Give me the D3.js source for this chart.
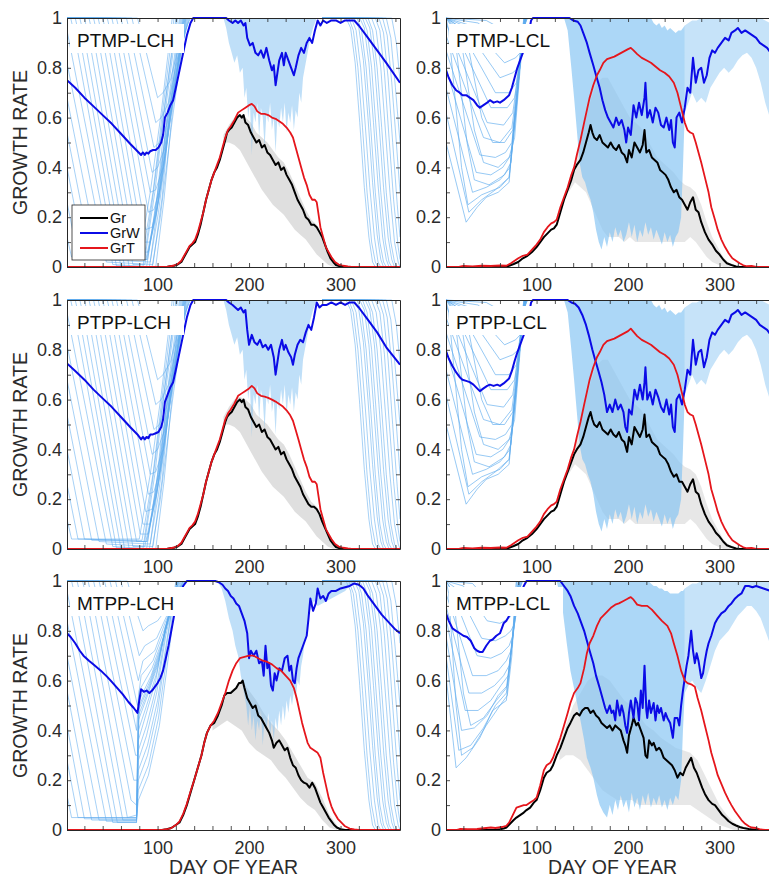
<!DOCTYPE html>
<html>
<head>
<meta charset="utf-8">
<script src="https://cdn.jsdelivr.net/npm/d3@7"></script>
<style>
  body { margin: 0; background: #fff; }
  text { font-family: "Liberation Sans", Arial, Helvetica, sans-serif; }
</style>
</head>
<body>
<svg id="chart" width="769" height="879"></svg>
<script>
// ---- bold series, [day, rate] ----
const grwPTMPLCH = [[1,0.75],[10,0.72],[20,0.68],[30,0.645],[40,0.61],[50,0.575],[60,0.535],[70,0.495],[78,0.465],[82,0.45],[84,0.46],[86,0.45],[88,0.46],[90,0.455],[92,0.465],[95,0.47],[98,0.47],[101,0.48],[104,0.5],[106,0.53],[108,0.6],[111,0.62],[114,0.65],[117,0.67],[120,0.72],[124,0.79],[128,0.86],[132,0.93],[136,0.98],[139,1],[175,1],[178,0.99],[182,0.98],[185,0.99],[188,0.98],[191,0.99],[194,0.97],[196,0.98],[198,0.92],[201,0.89],[204,0.9],[207,0.86],[210,0.85],[213,0.87],[216,0.84],[219,0.88],[222,0.83],[225,0.79],[227,0.81],[229,0.73],[231,0.78],[233,0.83],[236,0.86],[238,0.81],[240,0.86],[243,0.83],[246,0.8],[249,0.77],[251,0.8],[254,0.85],[257,0.88],[260,0.86],[263,0.9],[266,0.92],[269,0.9],[272,0.95],[275,0.99],[278,0.97],[281,0.99],[285,0.98],[290,0.99],[295,0.99],[300,0.98],[305,0.99],[310,0.99],[315,0.99],[320,0.97],[330,0.92],[340,0.87],[350,0.82],[365,0.74]];
const grPTMPLCH = [[1,0],[110,0],[114,0.003],[118,0.005],[122,0.01],[126,0.02],[129,0.04],[132,0.06],[135,0.08],[138,0.09],[141,0.1],[144,0.13],[147,0.17],[150,0.22],[153,0.27],[156,0.31],[159,0.35],[162,0.38],[165,0.4],[168,0.43],[171,0.47],[174,0.51],[176,0.54],[178,0.55],[181,0.56],[184,0.58],[187,0.6],[190,0.61],[192,0.6],[194,0.61],[196,0.58],[199,0.57],[202,0.54],[205,0.52],[208,0.5],[211,0.51],[214,0.48],[217,0.49],[220,0.46],[223,0.45],[226,0.43],[229,0.41],[232,0.42],[235,0.39],[238,0.4],[241,0.37],[244,0.35],[247,0.33],[250,0.3],[253,0.27],[256,0.25],[259,0.23],[262,0.2],[265,0.19],[268,0.17],[271,0.17],[274,0.16],[277,0.14],[280,0.12],[283,0.09],[286,0.06],[289,0.035],[292,0.02],[295,0.008],[300,0.002],[305,0],[365,0]];
const grtPTMPLCH = [[1,0],[110,0],[114,0.003],[118,0.006],[122,0.012],[126,0.025],[129,0.045],[132,0.065],[135,0.085],[138,0.095],[141,0.11],[144,0.14],[147,0.18],[150,0.22],[153,0.27],[156,0.31],[159,0.35],[162,0.38],[165,0.41],[168,0.44],[171,0.48],[174,0.52],[177,0.55],[180,0.565],[184,0.59],[188,0.62],[192,0.63],[196,0.64],[200,0.65],[203,0.655],[206,0.645],[209,0.625],[213,0.615],[217,0.615],[221,0.61],[225,0.6],[229,0.595],[233,0.585],[237,0.575],[241,0.56],[245,0.54],[248,0.52],[251,0.48],[254,0.44],[257,0.4],[260,0.36],[263,0.33],[266,0.29],[269,0.27],[272,0.27],[274,0.26],[276,0.21],[278,0.16],[281,0.12],[284,0.08],[287,0.06],[290,0.04],[294,0.02],[298,0.01],[303,0.005],[308,0.002],[312,0],[365,0]];

const grwPTPPLCH = [[1,0.745],[10,0.715],[20,0.68],[30,0.64],[40,0.605],[50,0.57],[60,0.53],[70,0.49],[78,0.46],[82,0.44],[84,0.45],[86,0.44],[88,0.45],[90,0.445],[92,0.46],[95,0.46],[98,0.465],[101,0.47],[104,0.49],[106,0.52],[108,0.59],[111,0.62],[114,0.65],[117,0.67],[120,0.72],[124,0.79],[128,0.86],[132,0.93],[136,0.98],[139,1],[175,1],[178,0.99],[182,0.98],[185,0.97],[188,0.96],[191,0.97],[194,0.95],[196,0.96],[198,0.88],[200,0.82],[203,0.86],[206,0.83],[209,0.82],[212,0.84],[215,0.81],[218,0.82],[221,0.8],[224,0.82],[227,0.77],[229,0.7],[231,0.75],[233,0.8],[236,0.84],[238,0.8],[240,0.82],[243,0.79],[246,0.77],[248,0.74],[250,0.78],[253,0.82],[256,0.84],[259,0.83],[262,0.87],[265,0.9],[268,0.88],[271,0.93],[274,0.99],[277,0.97],[280,0.98],[285,0.98],[290,0.99],[295,0.98],[300,0.99],[305,0.98],[310,0.99],[315,0.99],[320,0.97],[330,0.92],[340,0.87],[350,0.81],[365,0.74]];
const grPTPPLCH = [[1,0],[110,0],[114,0.003],[118,0.005],[122,0.01],[126,0.02],[129,0.04],[132,0.06],[135,0.08],[138,0.09],[141,0.1],[144,0.13],[147,0.17],[150,0.22],[153,0.27],[156,0.31],[159,0.35],[162,0.38],[165,0.4],[168,0.43],[171,0.47],[174,0.51],[176,0.53],[178,0.54],[181,0.55],[184,0.57],[187,0.59],[190,0.6],[192,0.59],[194,0.6],[196,0.57],[199,0.56],[202,0.53],[205,0.51],[208,0.49],[211,0.5],[214,0.47],[217,0.48],[220,0.45],[223,0.44],[226,0.42],[229,0.4],[232,0.41],[235,0.38],[238,0.39],[241,0.36],[244,0.34],[247,0.32],[250,0.29],[253,0.27],[256,0.25],[259,0.22],[262,0.2],[265,0.18],[268,0.17],[271,0.17],[274,0.16],[277,0.14],[280,0.11],[283,0.085],[286,0.06],[289,0.035],[292,0.02],[295,0.008],[300,0.002],[305,0],[365,0]];
const grtPTPPLCH = [[1,0],[110,0],[114,0.003],[118,0.006],[122,0.012],[126,0.025],[129,0.045],[132,0.065],[135,0.085],[138,0.095],[141,0.11],[144,0.14],[147,0.18],[150,0.22],[153,0.27],[156,0.31],[159,0.35],[162,0.38],[165,0.41],[168,0.44],[171,0.48],[174,0.52],[177,0.545],[180,0.56],[184,0.585],[188,0.615],[192,0.625],[196,0.635],[200,0.645],[203,0.655],[206,0.645],[209,0.625],[213,0.615],[217,0.612],[221,0.607],[225,0.6],[229,0.592],[233,0.582],[237,0.572],[241,0.557],[245,0.537],[248,0.515],[251,0.478],[254,0.44],[257,0.4],[260,0.36],[263,0.33],[266,0.29],[269,0.27],[272,0.27],[274,0.26],[276,0.21],[278,0.16],[281,0.12],[284,0.08],[287,0.06],[290,0.04],[294,0.02],[298,0.01],[303,0.005],[308,0.002],[312,0],[365,0]];

const grwMTPPLCH = [[1,0.79],[5,0.775],[10,0.75],[15,0.72],[19,0.7],[25,0.68],[30,0.665],[38,0.64],[45,0.615],[50,0.595],[56,0.57],[62,0.545],[68,0.515],[74,0.49],[78,0.47],[80,0.52],[82,0.565],[85,0.555],[88,0.56],[91,0.55],[94,0.56],[97,0.575],[100,0.59],[103,0.61],[106,0.64],[109,0.69],[112,0.74],[115,0.8],[118,0.86],[121,0.89],[124,0.94],[128,0.98],[132,1],[163,1],[167,0.995],[171,0.985],[174,0.97],[177,0.96],[180,0.94],[183,0.93],[186,0.91],[189,0.9],[192,0.87],[195,0.84],[198,0.79],[200,0.69],[202,0.72],[205,0.7],[208,0.72],[211,0.67],[214,0.68],[216,0.62],[218,0.74],[220,0.65],[222,0.67],[224,0.58],[226,0.56],[228,0.63],[230,0.6],[233,0.65],[236,0.64],[239,0.69],[242,0.7],[244,0.64],[246,0.66],[248,0.6],[250,0.59],[252,0.65],[254,0.69],[257,0.72],[260,0.75],[263,0.78],[265,0.85],[267,0.93],[270,0.88],[273,0.91],[275,0.97],[278,0.93],[281,0.94],[284,0.92],[287,0.95],[290,0.96],[295,0.96],[300,0.97],[305,0.975],[310,0.98],[315,0.99],[320,0.985],[325,0.97],[330,0.94],[335,0.915],[340,0.89],[345,0.865],[350,0.845],[355,0.825],[360,0.805],[365,0.79]];
const grMTPPLCH = [[1,0],[105,0],[110,0.003],[115,0.008],[120,0.02],[124,0.03],[128,0.06],[132,0.1],[136,0.15],[140,0.2],[144,0.25],[148,0.3],[151,0.35],[154,0.39],[158,0.42],[162,0.43],[166,0.46],[170,0.5],[173,0.54],[176,0.55],[180,0.55],[183,0.56],[186,0.57],[189,0.59],[191,0.59],[193,0.6],[195,0.57],[198,0.53],[201,0.51],[204,0.49],[207,0.5],[210,0.46],[213,0.45],[216,0.43],[219,0.41],[222,0.39],[225,0.36],[227,0.33],[230,0.35],[233,0.36],[236,0.34],[239,0.32],[242,0.33],[245,0.29],[248,0.26],[251,0.25],[254,0.22],[257,0.2],[260,0.19],[263,0.185],[266,0.17],[269,0.19],[272,0.17],[275,0.14],[278,0.11],[281,0.09],[284,0.07],[287,0.05],[290,0.035],[293,0.02],[296,0.01],[300,0.003],[305,0],[365,0]];
const grtMTPPLCH = [[1,0],[105,0],[110,0.003],[115,0.008],[120,0.02],[124,0.035],[128,0.065],[132,0.105],[136,0.155],[140,0.2],[144,0.25],[148,0.3],[151,0.35],[154,0.39],[158,0.42],[162,0.44],[166,0.47],[170,0.51],[174,0.55],[178,0.6],[182,0.64],[186,0.67],[190,0.69],[195,0.695],[200,0.7],[205,0.7],[210,0.69],[215,0.68],[220,0.675],[225,0.665],[230,0.65],[235,0.64],[240,0.62],[245,0.6],[249,0.57],[252,0.53],[255,0.48],[258,0.43],[261,0.39],[264,0.35],[267,0.33],[271,0.32],[275,0.31],[278,0.29],[281,0.23],[284,0.18],[287,0.13],[290,0.095],[293,0.07],[297,0.045],[301,0.03],[305,0.015],[310,0.006],[315,0.002],[320,0],[365,0]];

const grwPTMPLCL = [[1,0.79],[4,0.76],[8,0.73],[12,0.71],[16,0.7],[19,0.69],[23,0.69],[27,0.68],[31,0.67],[35,0.65],[38,0.64],[42,0.65],[46,0.66],[49,0.67],[53,0.66],[57,0.665],[60,0.66],[64,0.67],[67,0.68],[70,0.69],[73,0.72],[76,0.76],[79,0.8],[82,0.83],[85,0.86],[88,0.88],[91,0.93],[94,0.99],[96,1],[136,1],[140,0.99],[145,0.985],[148,0.97],[151,0.94],[155,0.9],[158,0.86],[162,0.81],[165,0.77],[169,0.72],[172,0.67],[175,0.63],[178,0.6],[181,0.58],[184,0.56],[187,0.6],[190,0.57],[193,0.59],[196,0.55],[198,0.5],[200,0.56],[203,0.53],[206,0.65],[209,0.6],[212,0.66],[215,0.61],[218,0.68],[219,0.74],[221,0.6],[224,0.63],[227,0.58],[230,0.64],[233,0.62],[236,0.57],[239,0.56],[242,0.6],[245,0.55],[247,0.59],[249,0.5],[251,0.48],[253,0.6],[256,0.62],[259,0.58],[262,0.64],[265,0.72],[268,0.7],[271,0.84],[274,0.74],[277,0.79],[280,0.8],[283,0.74],[286,0.77],[289,0.84],[292,0.87],[295,0.86],[298,0.88],[302,0.9],[306,0.92],[310,0.91],[313,0.94],[317,0.95],[320,0.96],[324,0.94],[328,0.95],[332,0.94],[336,0.93],[340,0.92],[344,0.9],[348,0.89],[352,0.88],[356,0.86],[365,0.8]];
const grPTMPLCL = [[1,0],[65,0],[70,0.005],[75,0.012],[80,0.02],[85,0.035],[90,0.045],[95,0.06],[100,0.08],[104,0.1],[108,0.12],[112,0.135],[116,0.15],[119,0.155],[122,0.17],[126,0.22],[130,0.27],[134,0.31],[138,0.35],[141,0.39],[144,0.41],[148,0.43],[151,0.46],[154,0.5],[157,0.54],[159,0.57],[161,0.54],[163,0.52],[166,0.51],[169,0.53],[172,0.5],[175,0.49],[178,0.48],[181,0.5],[184,0.48],[187,0.47],[190,0.49],[193,0.46],[196,0.45],[199,0.42],[201,0.47],[204,0.44],[207,0.5],[210,0.48],[213,0.46],[216,0.49],[218,0.55],[220,0.46],[223,0.47],[226,0.44],[229,0.43],[232,0.42],[235,0.39],[238,0.38],[241,0.37],[244,0.35],[247,0.32],[250,0.3],[253,0.31],[256,0.28],[259,0.27],[262,0.25],[265,0.23],[268,0.26],[271,0.28],[274,0.23],[277,0.22],[280,0.18],[284,0.14],[288,0.11],[292,0.09],[296,0.065],[300,0.05],[304,0.03],[308,0.015],[313,0.008],[318,0.002],[322,0],[365,0]];
const grtPTMPLCL = [[1,0],[15,0],[20,0.004],[30,0.002],[40,0.005],[50,0.004],[60,0.006],[67,0.005],[72,0.015],[76,0.025],[80,0.035],[85,0.045],[90,0.05],[95,0.07],[100,0.09],[104,0.11],[108,0.14],[112,0.16],[116,0.175],[119,0.18],[122,0.19],[126,0.24],[130,0.28],[134,0.32],[138,0.37],[141,0.4],[144,0.45],[148,0.51],[152,0.58],[155,0.63],[158,0.68],[162,0.73],[166,0.77],[169,0.79],[173,0.82],[177,0.835],[181,0.84],[185,0.845],[190,0.855],[195,0.865],[200,0.875],[203,0.88],[206,0.87],[210,0.855],[215,0.84],[220,0.83],[225,0.82],[230,0.805],[235,0.79],[240,0.78],[245,0.765],[250,0.74],[254,0.7],[258,0.64],[262,0.58],[265,0.55],[268,0.54],[271,0.535],[274,0.5],[277,0.46],[280,0.42],[284,0.36],[288,0.3],[291,0.24],[295,0.19],[298,0.15],[302,0.11],[306,0.08],[310,0.055],[314,0.035],[318,0.025],[322,0.015],[326,0.007],[330,0.003],[335,0.004],[340,0],[365,0]];

const grwPTPPLCL = [[1,0.795],[4,0.765],[8,0.735],[12,0.71],[16,0.69],[19,0.68],[23,0.675],[27,0.67],[31,0.66],[35,0.645],[38,0.634],[42,0.645],[46,0.655],[49,0.66],[53,0.655],[57,0.66],[60,0.655],[64,0.665],[67,0.675],[70,0.685],[73,0.715],[76,0.755],[79,0.79],[82,0.82],[85,0.85],[88,0.88],[91,0.93],[94,0.99],[96,1],[134,1],[138,0.99],[142,0.985],[146,0.97],[150,0.94],[154,0.9],[157,0.86],[161,0.8],[164,0.76],[168,0.71],[171,0.67],[174,0.62],[177,0.55],[180,0.58],[183,0.55],[186,0.6],[189,0.56],[192,0.58],[195,0.55],[197,0.49],[199,0.47],[201,0.56],[204,0.54],[207,0.64],[210,0.6],[213,0.66],[216,0.6],[218,0.67],[219,0.73],[221,0.6],[224,0.63],[227,0.58],[230,0.64],[233,0.61],[236,0.57],[239,0.55],[242,0.6],[245,0.54],[247,0.58],[249,0.49],[251,0.47],[253,0.6],[256,0.62],[259,0.58],[262,0.64],[265,0.72],[268,0.7],[271,0.84],[274,0.74],[277,0.79],[280,0.8],[283,0.73],[286,0.77],[289,0.84],[292,0.87],[295,0.86],[298,0.88],[302,0.9],[306,0.92],[310,0.91],[313,0.94],[317,0.95],[320,0.96],[324,0.94],[328,0.95],[332,0.94],[336,0.93],[340,0.92],[344,0.9],[348,0.89],[352,0.88],[356,0.86],[365,0.8]];
const grPTPPLCL = [[1,0],[65,0],[70,0.005],[75,0.012],[80,0.02],[85,0.035],[90,0.045],[95,0.06],[100,0.08],[104,0.1],[108,0.12],[112,0.135],[116,0.15],[119,0.155],[122,0.17],[126,0.22],[130,0.27],[134,0.31],[138,0.35],[141,0.38],[144,0.4],[148,0.42],[151,0.45],[154,0.49],[157,0.53],[159,0.55],[161,0.52],[163,0.5],[166,0.49],[169,0.51],[172,0.48],[175,0.47],[178,0.46],[181,0.48],[184,0.46],[187,0.45],[190,0.47],[193,0.44],[196,0.43],[199,0.39],[201,0.45],[204,0.42],[207,0.49],[210,0.47],[213,0.45],[216,0.48],[218,0.54],[220,0.45],[223,0.46],[226,0.43],[229,0.42],[232,0.41],[235,0.38],[238,0.37],[241,0.36],[244,0.34],[247,0.31],[250,0.29],[253,0.3],[256,0.27],[259,0.27],[262,0.25],[265,0.23],[268,0.26],[271,0.28],[274,0.23],[277,0.22],[280,0.18],[284,0.14],[288,0.11],[292,0.09],[296,0.065],[300,0.05],[304,0.03],[308,0.015],[313,0.008],[318,0.002],[322,0],[365,0]];
const grtPTPPLCL = [[1,0],[15,0],[20,0.004],[30,0.002],[40,0.005],[50,0.004],[60,0.006],[67,0.005],[72,0.015],[76,0.025],[80,0.035],[85,0.045],[90,0.05],[95,0.07],[100,0.09],[104,0.11],[108,0.14],[112,0.16],[116,0.175],[119,0.18],[122,0.19],[126,0.24],[130,0.28],[134,0.32],[138,0.37],[141,0.4],[144,0.45],[148,0.51],[152,0.58],[155,0.63],[158,0.68],[162,0.73],[166,0.77],[169,0.79],[173,0.82],[177,0.835],[181,0.84],[185,0.845],[190,0.855],[195,0.865],[200,0.875],[203,0.885],[206,0.872],[210,0.855],[215,0.84],[220,0.83],[225,0.82],[230,0.805],[235,0.79],[240,0.78],[245,0.765],[250,0.74],[254,0.7],[258,0.64],[262,0.58],[265,0.55],[268,0.54],[271,0.535],[274,0.5],[277,0.46],[280,0.42],[284,0.36],[288,0.3],[291,0.24],[295,0.19],[298,0.15],[302,0.11],[306,0.08],[310,0.055],[314,0.035],[318,0.025],[322,0.015],[326,0.007],[330,0.003],[335,0.004],[340,0],[365,0]];

const grwMTPPLCL = [[1,0.87],[4,0.84],[8,0.81],[12,0.8],[16,0.79],[20,0.78],[24,0.775],[28,0.76],[32,0.73],[35,0.72],[38,0.715],[41,0.715],[45,0.74],[49,0.76],[52,0.765],[56,0.78],[60,0.79],[64,0.83],[67,0.84],[70,0.86],[74,0.88],[78,0.9],[82,0.94],[86,0.98],[89,1],[126,1],[130,0.98],[134,0.96],[137,0.94],[141,0.9],[145,0.87],[148,0.84],[152,0.8],[155,0.76],[158,0.72],[162,0.67],[165,0.62],[169,0.57],[172,0.53],[175,0.49],[177,0.47],[180,0.5],[182,0.47],[184,0.48],[186,0.44],[188,0.52],[191,0.46],[193,0.5],[195,0.47],[197,0.42],[199,0.39],[201,0.47],[203,0.52],[206,0.45],[208,0.53],[210,0.51],[212,0.44],[214,0.56],[216,0.49],[218,0.66],[220,0.48],[221,0.45],[223,0.52],[225,0.47],[228,0.51],[230,0.44],[232,0.5],[234,0.47],[236,0.49],[239,0.44],[241,0.47],[243,0.45],[246,0.43],[249,0.37],[251,0.45],[254,0.45],[256,0.42],[258,0.5],[260,0.56],[262,0.61],[264,0.66],[266,0.7],[269,0.8],[271,0.72],[273,0.67],[275,0.71],[277,0.68],[280,0.61],[282,0.63],[284,0.68],[286,0.72],[288,0.75],[291,0.78],[295,0.83],[298,0.85],[302,0.87],[306,0.88],[310,0.9],[313,0.91],[317,0.93],[320,0.94],[324,0.95],[328,0.98],[332,0.98],[336,0.975],[340,0.98],[344,0.975],[348,0.97],[352,0.965],[356,0.96],[365,0.95]];
const grMTPPLCL = [[1,0],[55,0],[60,0.003],[64,0.006],[67,0.01],[71,0.025],[75,0.04],[78,0.05],[82,0.06],[86,0.07],[89,0.08],[93,0.09],[97,0.11],[100,0.12],[104,0.16],[108,0.21],[111,0.23],[115,0.24],[118,0.26],[122,0.3],[126,0.33],[130,0.37],[134,0.41],[137,0.43],[141,0.46],[144,0.47],[147,0.46],[150,0.48],[153,0.49],[156,0.49],[159,0.47],[162,0.48],[165,0.46],[168,0.45],[171,0.43],[174,0.42],[177,0.41],[180,0.42],[183,0.4],[186,0.42],[189,0.41],[192,0.4],[195,0.36],[197,0.34],[199,0.31],[201,0.38],[204,0.42],[206,0.45],[209,0.42],[211,0.43],[214,0.4],[217,0.37],[219,0.3],[221,0.29],[223,0.36],[226,0.34],[228,0.35],[231,0.32],[234,0.33],[236,0.32],[239,0.29],[242,0.28],[245,0.27],[248,0.26],[251,0.24],[254,0.21],[257,0.23],[260,0.22],[263,0.25],[266,0.27],[269,0.29],[272,0.25],[275,0.23],[278,0.2],[281,0.17],[284,0.145],[288,0.12],[292,0.105],[295,0.1],[299,0.08],[303,0.06],[306,0.05],[310,0.035],[314,0.025],[318,0.018],[322,0.012],[326,0.008],[332,0.004],[338,0.001],[345,0],[365,0]];
const grtMTPPLCL = [[1,0],[12,0],[16,0.004],[25,0.003],[35,0.004],[45,0.008],[50,0.01],[55,0.008],[62,0.012],[67,0.017],[70,0.03],[74,0.06],[78,0.09],[82,0.095],[86,0.1],[89,0.1],[93,0.11],[97,0.12],[100,0.13],[104,0.18],[108,0.24],[111,0.26],[115,0.27],[118,0.29],[122,0.33],[126,0.37],[130,0.42],[134,0.47],[137,0.51],[141,0.55],[145,0.57],[148,0.59],[152,0.65],[155,0.71],[158,0.75],[162,0.78],[166,0.82],[170,0.85],[174,0.865],[178,0.88],[182,0.895],[186,0.905],[190,0.91],[195,0.92],[200,0.93],[203,0.935],[206,0.925],[210,0.905],[215,0.9],[221,0.9],[226,0.885],[232,0.86],[237,0.84],[243,0.82],[247,0.79],[250,0.75],[254,0.7],[258,0.64],[262,0.6],[265,0.59],[269,0.585],[273,0.575],[276,0.53],[280,0.48],[284,0.42],[288,0.36],[291,0.31],[295,0.26],[298,0.22],[302,0.185],[306,0.15],[310,0.12],[313,0.1],[317,0.075],[321,0.055],[324,0.04],[328,0.025],[332,0.015],[335,0.01],[340,0.008],[345,0.002],[350,0],[365,0]];

// ---- ensemble members (light blue GrW runs), [day, rate] ----
const earlyLCH = [
  [[1,0.12],[6,0.04],[80,0.04],[92,0.3],[104,0.62],[116,1]],
  [[1,0.26],[13,0.04],[83,0.035],[95,0.3],[106,0.64],[118,1]],
  [[1,0.4],[20,0.04],[86,0.03],[97,0.3],[108,0.65],[120,1]],
  [[1,0.54],[28,0.035],[89,0.03],[100,0.3],[110,0.67],[122,1]],
  [[1,0.68],[36,0.03],[92,0.02],[102,0.3],[112,0.67],[124,1]],
  [[1,0.82],[44,0.02],[95,0.01],[105,0.28],[114,0.65],[126,1]],
  [[1,0.95],[51,0.01],[98,0],[107,0.27],[116,0.62],[128,1]],
  [[1,1],[5,1],[10,0.92],[55,0.005],[84,0],[94,0.26],[106,0.6],[121,1]],
  [[1,1],[10,1],[15,0.92],[60,0],[88,0],[98,0.24],[110,0.58],[125,1]],
  [[1,1],[15,1],[20,0.92],[64,0],[91,0],[101,0.22],[113,0.57],[129,1]],
  [[1,1],[20,1],[25,0.92],[69,0],[94,0],[103,0.2],[115,0.56],[131,1]],
  [[1,1],[25,1],[30,0.92],[73,0.01],[86,0.01],[97,0.2],[110,0.56],[127,1]],
  [[1,1],[30,1],[35,0.92],[77,0.03],[88,0.03],[98,0.21],[111,0.56],[128,1]],
  [[1,1],[35,1],[40,0.92],[81,0.06],[90,0.06],[99,0.22],[112,0.57],[129,1]],
  [[1,1],[40,1],[45,0.92],[84,0.1],[92,0.1],[100,0.24],[113,0.58],[130,1]],
  [[1,1],[45,1],[50,0.92],[87,0.15],[94,0.16],[102,0.28],[114,0.6],[130,1]],
  [[1,1],[50,1],[55,0.92],[90,0.22],[96,0.23],[104,0.33],[115,0.63],[131,1]],
  [[1,1],[55,1],[60,0.92],[92,0.3],[98,0.31],[106,0.4],[117,0.67],[132,1]],
  [[1,1],[60,1],[65,0.92],[94,0.38],[100,0.4],[108,0.48],[118,0.72],[133,1]],
  [[1,1],[66,1],[71,0.92],[96,0.48],[102,0.5],[110,0.57],[120,0.78],[134,1]],
  [[1,1],[72,1],[77,0.92],[98,0.58],[104,0.6],[112,0.66],[122,0.84],[135,1]],
  [[1,1],[78,1],[83,0.93],[100,0.68],[106,0.7],[114,0.75],[124,0.9],[136,1]]
];
const earlyMTLCH = [
  [[1,0.14],[6,0.05],[77,0.05],[79,0.12],[90,0.22],[102,0.42],[112,0.7],[122,1]],
  [[1,0.28],[13,0.05],[77,0.05],[79,0.16],[90,0.26],[101,0.45],[111,0.72],[121,1]],
  [[1,0.42],[20,0.045],[77,0.045],[79,0.2],[89,0.3],[100,0.48],[110,0.74],[120,1]],
  [[1,0.56],[28,0.04],[77,0.04],[79,0.24],[89,0.34],[100,0.52],[110,0.76],[121,1]],
  [[1,0.7],[36,0.04],[77,0.04],[79,0.28],[88,0.38],[99,0.55],[109,0.78],[122,1]],
  [[1,0.84],[44,0.035],[77,0.035],[79,0.32],[88,0.42],[99,0.58],[109,0.8],[123,1]],
  [[1,0.96],[51,0.03],[77,0.03],[79,0.36],[87,0.46],[98,0.6],[108,0.81],[123,1]],
  [[1,1],[6,1],[11,0.92],[56,0.03],[77,0.03],[79,0.4],[88,0.5],[99,0.63],[110,0.83],[124,1]],
  [[1,1],[12,1],[17,0.92],[62,0.04],[77,0.04],[79,0.44],[89,0.54],[100,0.66],[111,0.85],[125,1]],
  [[1,1],[18,1],[23,0.92],[67,0.05],[77,0.06],[79,0.46],[90,0.56],[101,0.68],[112,0.86],[126,1]],
  [[1,1],[24,1],[29,0.92],[71,0.12],[77,0.1],[79,0.48],[91,0.58],[102,0.7],[113,0.87],[127,1]],
  [[1,1],[30,1],[35,0.92],[74,0.2],[78,0.2],[80,0.5],[92,0.6],[103,0.72],[114,0.88],[128,1]],
  [[1,1],[36,1],[41,0.92],[76,0.3],[78,0.3],[80,0.52],[93,0.62],[104,0.74],[115,0.89],[128,1]],
  [[1,1],[42,1],[47,0.92],[77,0.4],[80,0.56],[94,0.65],[106,0.77],[116,0.9],[129,1]],
  [[1,1],[48,1],[53,0.92],[78,0.5],[82,0.62],[95,0.68],[107,0.8],[118,0.92],[130,1]],
  [[1,1],[54,1],[59,0.92],[79,0.6],[84,0.68],[97,0.72],[108,0.83],[119,0.93],[131,1]],
  [[1,1],[60,1],[65,0.92],[80,0.7],[86,0.74],[99,0.77],[110,0.86],[120,0.95],[132,1]],
  [[1,1],[67,1],[72,0.93],[84,0.8],[90,0.82],[100,0.84],[112,0.9],[122,0.97],[133,1]]
];
const lateLCH = [
  [[280,1],[306,1],[311,0.96],[316,0.82],[321,0.58],[326,0.32],[331,0.12],[335,0.02],[338,0]],
  [[280,1],[309,1],[314,0.95],[319,0.8],[324,0.56],[329,0.3],[334,0.1],[338,0.02],[341,0]],
  [[280,1],[312,1],[317,0.95],[322,0.8],[327,0.57],[332,0.32],[337,0.12],[341,0.02],[344,0]],
  [[280,1],[315,1],[320,0.96],[325,0.83],[330,0.6],[335,0.34],[340,0.13],[344,0.03],[347,0]],
  [[280,1],[318,1],[323,0.95],[328,0.8],[333,0.56],[338,0.3],[343,0.1],[347,0.02],[350,0]],
  [[280,1],[321,1],[326,0.96],[331,0.82],[336,0.58],[341,0.33],[346,0.12],[350,0.03],[353,0]],
  [[280,1],[324,1],[329,0.95],[334,0.8],[339,0.55],[344,0.3],[349,0.1],[353,0.02],[356,0]],
  [[280,1],[327,1],[332,0.96],[337,0.82],[342,0.58],[347,0.32],[352,0.12],[356,0.03],[359,0]],
  [[280,1],[330,1],[335,0.95],[340,0.8],[345,0.56],[350,0.3],[355,0.1],[359,0.02],[362,0]],
  [[280,1],[334,1],[339,0.95],[344,0.8],[349,0.55],[354,0.3],[359,0.1],[363,0.02],[365,0]],
  [[280,1],[338,1],[343,0.95],[348,0.78],[353,0.52],[358,0.27],[363,0.08],[365,0.03]],
  [[280,1],[342,1],[347,0.94],[352,0.76],[357,0.5],[362,0.25],[365,0.12]],
  [[280,1],[346,1],[351,0.93],[356,0.74],[361,0.5],[365,0.3]],
  [[280,1],[350,1],[355,0.92],[360,0.72],[365,0.5]],
  [[280,1],[356,1],[361,0.9],[365,0.75]]
];
const earlyLCL = [
  [[1,0.5],[23,0.18],[35,0.24],[45,0.28],[58,0.3],[70,0.34],[76,0.6],[84,0.92],[88,1]],
  [[1,0.62],[26,0.22],[40,0.27],[55,0.31],[70,0.36],[77,0.62],[85,0.95],[88,1]],
  [[1,0.72],[30,0.3],[45,0.32],[60,0.35],[71,0.4],[78,0.66],[85,0.96],[88,1]],
  [[1,0.8],[34,0.38],[50,0.37],[63,0.4],[72,0.45],[79,0.7],[86,0.97],[89,1]],
  [[1,0.87],[38,0.45],[55,0.44],[66,0.46],[73,0.5],[80,0.74],[86,0.98],[89,1]],
  [[1,0.93],[42,0.52],[60,0.5],[73,0.56],[81,0.78],[87,1]],
  [[1,0.98],[46,0.58],[64,0.57],[74,0.62],[82,0.82],[87,1]],
  [[1,1],[8,0.97],[50,0.64],[68,0.64],[76,0.68],[83,0.86],[88,1]],
  [[1,1],[14,0.97],[55,0.7],[70,0.7],[78,0.74],[84,0.9],[88,1]],
  [[1,1],[20,0.97],[60,0.76],[74,0.78],[80,0.8],[85,0.93],[88,1]],
  [[1,1],[28,0.97],[65,0.82],[77,0.84],[82,0.86],[86,0.95],[89,1]],
  [[1,1],[36,0.98],[70,0.88],[80,0.9],[86,0.96],[90,1]],
  [[1,1],[45,0.99],[75,0.93],[84,0.95],[90,1]],
  [[1,1],[4,0.95],[18,0.4],[25,0.25],[40,0.29],[60,0.32],[70,0.36],[77,0.6],[86,1]],
  [[1,1],[10,0.95],[24,0.5],[32,0.35],[48,0.33],[65,0.37],[72,0.42],[79,0.68],[86,1]],
  [[1,1],[16,0.95],[32,0.55],[42,0.42],[58,0.4],[70,0.44],[76,0.52],[81,0.75],[87,1]],
  [[1,1],[22,0.95],[40,0.6],[52,0.5],[65,0.5],[74,0.55],[80,0.74],[87,1]]
];
const earlyMTLCL = [
  [[1,0.62],[12,0.25],[23,0.29],[38,0.37],[52,0.48],[67,0.52],[72,0.7],[76,0.87],[80,1]],
  [[1,0.7],[15,0.32],[28,0.34],[42,0.41],[55,0.5],[67,0.55],[72,0.72],[77,0.9],[80,1]],
  [[1,0.78],[18,0.4],[32,0.41],[46,0.46],[58,0.54],[68,0.58],[73,0.74],[78,0.92],[81,1]],
  [[1,0.85],[22,0.48],[36,0.48],[50,0.52],[61,0.58],[69,0.62],[74,0.77],[78,0.93],[81,1]],
  [[1,0.9],[26,0.55],[40,0.55],[54,0.58],[64,0.62],[70,0.66],[75,0.8],[79,0.95],[82,1]],
  [[1,0.95],[30,0.62],[45,0.62],[58,0.64],[67,0.68],[72,0.72],[76,0.84],[80,0.96],[82,1]],
  [[1,1],[6,0.97],[35,0.7],[50,0.69],[62,0.71],[70,0.74],[74,0.78],[78,0.88],[82,1]],
  [[1,1],[12,0.97],[40,0.77],[55,0.76],[66,0.78],[72,0.8],[76,0.83],[80,0.92],[83,1]],
  [[1,1],[20,0.98],[46,0.84],[60,0.83],[70,0.85],[75,0.88],[80,0.94],[84,1]],
  [[1,1],[30,0.99],[52,0.9],[66,0.9],[74,0.92],[80,0.96],[85,1]],
  [[1,1],[4,0.95],[12,0.5],[18,0.3],[30,0.33],[45,0.42],[60,0.5],[68,0.54],[73,0.7],[78,1]],
  [[1,1],[9,0.95],[20,0.55],[28,0.42],[42,0.45],[56,0.52],[67,0.57],[73,0.74],[78,1]]
];

// ---- ensemble envelopes [day, low, high] ----
const bandLCH = [[172,1,1],[175,0.96,1],[178,0.9,1],[181,0.86,1],[184,0.82,1],[187,0.85,1],[190,0.78,1],[193,0.8,1],[195,0.68,1],[197,0.72,1],[199,0.6,1],[201,0.66,1],[203,0.45,1],[205,0.62,1],[207,0.58,1],[209,0.66,1],[211,0.52,1],[213,0.64,1],[215,0.6,1],[217,0.48,1],[219,0.62,1],[221,0.58,1],[223,0.66,1],[225,0.55,1],[227,0.6,1],[229,0.46,1],[231,0.6,1],[233,0.56,1],[235,0.64,1],[237,0.58,1],[239,0.66,1],[241,0.54,1],[243,0.62,1],[245,0.58,1],[247,0.65,1],[249,0.55,1],[251,0.63,1],[253,0.6,1],[255,0.7,1],[257,0.66,1],[259,0.76,1],[261,0.8,1],[264,0.86,1],[267,0.92,1],[270,0.96,1],[274,1,1]];
const bandMTLCH = [[165,1,1],[170,0.97,1],[174,0.92,1],[178,0.85,1],[182,0.8,1],[185,0.74,1],[188,0.7,1],[191,0.62,1],[194,0.56,1],[197,0.5,1],[199,0.42,1],[201,0.5,1],[203,0.4,1],[205,0.46,1],[207,0.36,1],[209,0.44,1],[211,0.4,1],[213,0.48,1],[215,0.34,1],[217,0.45,1],[219,0.4,1],[221,0.47,1],[223,0.38,1],[225,0.44,1],[227,0.36,1],[229,0.45,1],[231,0.4,1],[233,0.48,1],[235,0.42,1],[237,0.5,1],[239,0.44,1],[241,0.52,1],[243,0.47,1],[245,0.54,1],[247,0.5,1],[249,0.56,1],[251,0.52,1],[253,0.6,1],[255,0.58,1],[257,0.66,1],[259,0.7,1],[261,0.76,1],[263,0.8,1],[265,0.86,1],[268,0.9,1],[271,0.92,1],[275,0.9,1],[280,0.91,1],[285,0.92,1],[295,0.94,1],[305,0.96,1],[315,1,1]];
const bandLCL = [[130,1,1],[134,0.95,1],[138,0.8,1],[141,0.68,1],[144,0.55,1],[147,0.42,1],[150,0.36,1],[153,0.34,1],[156,0.3,1],[159,0.27,1],[162,0.22,1],[165,0.15,1],[168,0.1,1],[171,0.07,1],[174,0.12,1],[177,0.08,1],[180,0.14,1],[183,0.1,1],[186,0.16,1],[189,0.12,1],[192,0.15,1],[195,0.1,1],[198,0.13,1],[201,0.18,1],[204,0.12,1],[207,0.17,1],[210,0.1,1],[213,0.15,1],[216,0.12,1],[219,0.18,1],[222,0.13,1],[225,0.16,1],[228,0.11,0.98],[231,0.15,0.97],[234,0.12,0.98],[237,0.09,0.96],[240,0.14,0.97],[243,0.1,0.95],[246,0.13,0.96],[249,0.08,0.95],[252,0.12,0.94],[255,0.14,0.95],[258,0.2,0.95],[260,0.4,0.96],[262,0.62,0.97]];
const lateBandLCL = [[262,0.62,0.97],[266,0.66,0.98],[270,0.7,0.99],[275,0.66,0.99],[280,0.68,1],[285,0.66,1],[290,0.72,1],[295,0.75,1],[300,0.78,1],[305,0.8,1],[310,0.78,1],[315,0.8,1],[320,0.83,1],[325,0.85,1],[330,0.86,1],[335,0.84,1],[340,0.8,1],[345,0.74,1],[350,0.66,0.99],[355,0.6,0.98],[360,0.55,0.97],[365,0.5,0.96]];
const bandMTLCL = [[122,1,1],[128,0.9,1],[133,0.75,1],[137,0.64,1],[142,0.55,1],[148,0.44,1],[152,0.36,1],[155,0.29,1],[159,0.25,1],[162,0.21,1],[166,0.14,1],[169,0.1,1],[173,0.07,1],[177,0.05,1],[180,0.1,1],[183,0.06,1],[186,0.12,1],[189,0.08,1],[192,0.14,1],[195,0.09,1],[198,0.12,1],[201,0.07,1],[204,0.15,1],[207,0.09,1],[210,0.13,1],[213,0.08,1],[216,0.14,1],[219,0.1,1],[222,0.15,1],[225,0.09,0.99],[228,0.13,0.98],[231,0.1,0.98],[234,0.14,0.97],[237,0.09,0.97],[240,0.12,0.96],[243,0.08,0.96],[246,0.13,0.95],[249,0.1,0.95],[252,0.14,0.95],[255,0.12,0.95],[258,0.2,0.96],[260,0.4,0.96],[262,0.55,0.97]];
const lateBandMTLCL = [[262,0.55,0.97],[266,0.58,0.98],[270,0.6,0.99],[275,0.57,0.99],[280,0.55,1],[285,0.6,1],[290,0.66,1],[295,0.72,1],[300,0.76,1],[305,0.78,1],[310,0.8,1],[315,0.83,1],[320,0.86,1],[325,0.88,1],[330,0.9,1],[335,0.9,1],[340,0.88,1],[345,0.85,1],[350,0.8,1],[355,0.75,1],[365,0.68,1]];

// gray Gr runs
const grayLCH = [[172,0.5,0.53],[178,0.5,0.57],[184,0.49,0.6],[190,0.47,0.61],[196,0.43,0.6],[202,0.39,0.58],[208,0.35,0.54],[214,0.31,0.52],[220,0.28,0.5],[226,0.25,0.47],[232,0.23,0.44],[238,0.21,0.42],[244,0.18,0.38],[250,0.15,0.33],[256,0.13,0.28],[262,0.11,0.23],[268,0.08,0.19],[274,0.05,0.17],[280,0.03,0.13],[286,0.01,0.07],[292,0,0.03],[298,0,0.01]];
const grayMTLCH = [[160,0.4,0.43],[168,0.42,0.49],[176,0.44,0.55],[184,0.42,0.57],[192,0.4,0.6],[200,0.35,0.56],[208,0.32,0.52],[216,0.3,0.47],[224,0.28,0.43],[232,0.24,0.4],[240,0.21,0.36],[248,0.17,0.31],[256,0.13,0.26],[264,0.1,0.21],[272,0.08,0.19],[280,0.04,0.13],[288,0.01,0.06],[296,0,0.02]];
const grayLCL = [[135,0.3,0.34],[142,0.34,0.42],[148,0.32,0.5],[154,0.3,0.6],[160,0.25,0.68],[166,0.2,0.74],[172,0.15,0.76],[178,0.12,0.76],[184,0.12,0.72],[190,0.12,0.68],[196,0.1,0.64],[202,0.12,0.6],[208,0.1,0.58],[214,0.1,0.56],[220,0.1,0.52],[226,0.1,0.48],[232,0.1,0.44],[238,0.1,0.42],[244,0.1,0.4],[250,0.1,0.38],[256,0.1,0.35],[262,0.1,0.33],[268,0.12,0.32],[274,0.1,0.3],[280,0.07,0.25],[286,0.04,0.18],[292,0.02,0.12],[298,0.01,0.08],[304,0,0.04],[312,0,0.01]];
const grayMTLCL = [[125,0.28,0.34],[132,0.3,0.42],[140,0.3,0.5],[148,0.28,0.55],[156,0.24,0.6],[164,0.2,0.62],[172,0.16,0.62],[180,0.14,0.6],[188,0.12,0.56],[196,0.12,0.52],[204,0.12,0.5],[212,0.1,0.46],[220,0.1,0.42],[228,0.1,0.4],[236,0.1,0.37],[244,0.1,0.35],[252,0.1,0.33],[260,0.1,0.32],[268,0.1,0.31],[276,0.08,0.28],[284,0.06,0.22],[292,0.04,0.16],[300,0.02,0.1],[308,0.01,0.06],[316,0,0.03],[325,0,0.01]];

const yTickValues = [0, 0.1, 0.2, 0.3, 0.4, 0.5, 0.6, 0.7, 0.8, 0.9, 1];
const yLabelled = [0, 0.2, 0.4, 0.6, 0.8, 1];
const xTickValues = [20, 40, 60, 80, 100, 120, 140, 160, 180, 200, 220, 240, 260, 280, 300, 320, 340, 360];
const xLabelled = [100, 200, 300];
const legendNames = ['Gr', 'GrW', 'GrT'];

const panels = [
  { label: 'PTMP-LCH', col: 0, row: 0, gr: grPTMPLCH, grw: grwPTMPLCH, grt: grtPTMPLCH, gray: grayLCH, band: bandLCH, lateBand: [], early: earlyLCH, late: lateLCH, legend: true },
  { label: 'PTMP-LCL', col: 1, row: 0, gr: grPTMPLCL, grw: grwPTMPLCL, grt: grtPTMPLCL, gray: grayLCL, band: bandLCL, lateBand: lateBandLCL, early: earlyLCL, late: [] },
  { label: 'PTPP-LCH', col: 0, row: 1, gr: grPTPPLCH, grw: grwPTPPLCH, grt: grtPTPPLCH, gray: grayLCH, band: bandLCH, lateBand: [], early: earlyLCH, late: lateLCH },
  { label: 'PTPP-LCL', col: 1, row: 1, gr: grPTPPLCL, grw: grwPTPPLCL, grt: grtPTPPLCL, gray: grayLCL, band: bandLCL, lateBand: lateBandLCL, early: earlyLCL, late: [] },
  { label: 'MTPP-LCH', col: 0, row: 2, gr: grMTPPLCH, grw: grwMTPPLCH, grt: grtMTPPLCH, gray: grayMTLCH, band: bandMTLCH, lateBand: [], early: earlyMTLCH, late: lateLCH },
  { label: 'MTPP-LCL', col: 1, row: 2, gr: grMTPPLCL, grw: grwMTPPLCL, grt: grtMTPPLCL, gray: grayMTLCL, band: bandMTLCL, lateBand: lateBandMTLCL, early: earlyMTLCL, late: [] }
];

const svg = d3.select('#chart');
const colX = [67, 446];
const rowY = [18, 300, 581];
const plotW = 333;
const plotH = 249;
const axisColor = '#262626';
const colors = { gr: '#000000', grw: '#0b0be6', grt: '#e5161c' };

function drawPanel(p, i) {
  const left = colX[p.col];
  const top = rowY[p.row];
  const x = d3.scaleLinear().domain([1, 365]).range([0, plotW]);
  const y = d3.scaleLinear().domain([0, 1]).range([plotH, 0]);
  const g = svg.append('g').attr('transform', `translate(${left},${top})`);

  g.append('clipPath').attr('id', 'clip' + i)
    .append('rect').attr('x', 0).attr('y', -1.5).attr('width', plotW).attr('height', plotH + 3);
  const plot = g.append('g').attr('clip-path', `url(#clip${i})`);

  const line = d3.line().x(d => x(d[0])).y(d => y(d[1]));
  const area = d3.area().x(d => x(d[0])).y0(d => y(d[1])).y1(d => y(d[2]));

  plot.append('path').datum(p.gray).attr('d', area)
    .attr('fill', 'rgb(175,175,175)').attr('fill-opacity', p.col === 0 ? 0.4 : 0.3);

  plot.append('g').selectAll('path')
    .data(p.early.concat(p.late))
    .join('path')
    .attr('d', line)
    .attr('fill', 'none')
    .attr('stroke', 'rgb(95,172,238)')
    .attr('stroke-opacity', p.col === 0 ? 0.55 : 0.65)
    .attr('stroke-width', 1);

  plot.append('path').datum(p.band).attr('d', area)
    .attr('fill', p.col === 0 ? 'rgb(128,192,242)' : 'rgb(132,196,243)')
    .attr('fill-opacity', p.col === 0 ? 0.5 : 0.68);
  if (p.lateBand.length) {
    plot.append('path').datum(p.lateBand).attr('d', area)
      .attr('fill', 'rgb(128,192,242)').attr('fill-opacity', 0.45);
  }

  [['gr', 2], ['grw', 2], ['grt', 1.8]].forEach(([key, w]) => {
    plot.append('path').datum(p[key]).attr('d', line)
      .attr('fill', 'none')
      .attr('stroke', colors[key])
      .attr('stroke-width', w)
      .attr('stroke-linejoin', 'round');
  });

  // axes, MATLAB style box with inward ticks
  const fmt = d3.format('~g');
  const styleAxis = sel => {
    sel.select('.domain').attr('stroke', axisColor);
    sel.selectAll('.tick line').attr('stroke', axisColor).attr('stroke-width', 0.8);
    sel.selectAll('.tick text').attr('fill', '#2b2b2b').attr('font-size', 18)
      .attr('font-family', '"Liberation Sans", Arial, sans-serif');
  };
  g.append('g')
    .call(d3.axisLeft(y).tickValues(yTickValues).tickSizeInner(-4).tickSizeOuter(0).tickPadding(5)
      .tickFormat(d => yLabelled.some(v => Math.abs(v - d) < 1e-9) ? fmt(d) : ''))
    .call(styleAxis);
  g.append('g').attr('transform', `translate(0,${plotH})`)
    .call(d3.axisBottom(x).tickValues(xTickValues).tickSizeInner(-4).tickSizeOuter(0).tickPadding(11)
      .tickFormat(d => xLabelled.includes(d) ? d : ''))
    .call(styleAxis);
  g.append('g')
    .call(d3.axisTop(x).tickValues(xTickValues).tickSizeInner(-4).tickSizeOuter(0).tickFormat(''))
    .call(styleAxis);
  g.append('g').attr('transform', `translate(${plotW},0)`)
    .call(d3.axisRight(y).tickValues(yTickValues).tickSizeInner(-4).tickSizeOuter(0).tickFormat(''))
    .call(styleAxis);

  // panel label on a white box
  g.append('rect').attr('x', 3).attr('y', 6).attr('width', 114).attr('height', 29).attr('fill', '#fff');
  g.append('text').attr('x', 10).attr('y', 29).attr('font-size', 19).attr('fill', '#111').text(p.label);

  if (p.legend) {
    const lg = g.append('g').attr('transform', 'translate(5,187)');
    lg.append('rect').attr('width', 73).attr('height', 55)
      .attr('fill', '#fff').attr('stroke', axisColor).attr('stroke-width', 0.8);
    legendNames.forEach((name, k) => {
      const key = ['gr', 'grw', 'grt'][k];
      const yy = 13 + k * 15;
      lg.append('line').attr('x1', 8).attr('x2', 36).attr('y1', yy).attr('y2', yy)
        .attr('stroke', colors[key]).attr('stroke-width', 2);
      lg.append('text').attr('x', 38).attr('y', yy + 5).attr('font-size', 14.5).attr('fill', '#111').text(name);
    });
  }

  if (p.col === 0) {
    svg.append('text')
      .attr('transform', `translate(27,${top + plotH / 2}) rotate(-90)`)
      .attr('text-anchor', 'middle').attr('font-size', 19.5).attr('fill', '#2b2b2b')
      .text('GROWTH RATE');
  }
  if (p.row === 2) {
    svg.append('text')
      .attr('x', left + plotW / 2).attr('y', 874)
      .attr('text-anchor', 'middle').attr('font-size', 19.5).attr('fill', '#2b2b2b')
      .text('DAY OF YEAR');
  }
}

panels.forEach(drawPanel);
</script>
</body>
</html>
